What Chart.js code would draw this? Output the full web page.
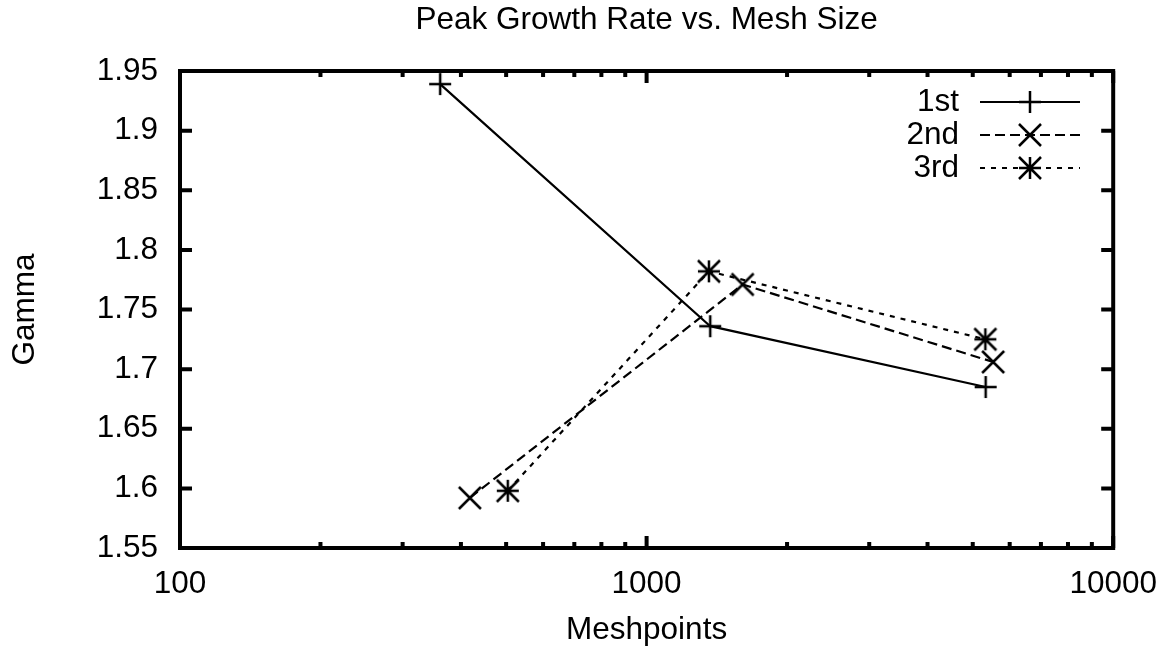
<!DOCTYPE html>
<html>
<head>
<meta charset="utf-8">
<title>Peak Growth Rate vs. Mesh Size</title>
<script src="https://cdn.jsdelivr.net/npm/chart.js@4/dist/chart.umd.min.js"></script>
<style>
  html, body { margin: 0; padding: 0; background: #fff; }
  canvas { display: block; }
</style>
</head>
<body>
<canvas id="growth" width="1174" height="650"></canvas>
<script>
// mesh sizes and peak gamma for each run
const meshFirst = [361, 1369, 5329];
const gammaFirst = [1.939, 1.736, 1.685];
const meshSecond = [418, 1606, 5530];
const gammaSecond = [1.592, 1.771, 1.706];
const meshThird = [504, 1360, 5320];
const gammaThird = [1.598, 1.782, 1.725];

const seriesNames = ['1st', '2nd', '3rd'];
const xTicks = [100, 1000, 10000];
const yTicks = [1.55, 1.6, 1.65, 1.7, 1.75, 1.8, 1.85, 1.9, 1.95];
const chartTitle = 'Peak Growth Rate vs. Mesh Size';

const FONT = '"Liberation Sans", Arial, Helvetica, sans-serif';
const FONT_SIZE = 31.5;
Chart.defaults.font.family = FONT;
Chart.defaults.color = '#000';

// gnuplot style markers drawn once onto small canvases
function makeMarker(kind) {
  const half = 11;
  const c = document.createElement('canvas');
  c.width = c.height = half * 2 + 6;
  const g = c.getContext('2d');
  const m = c.width / 2;
  g.strokeStyle = '#000';
  g.lineWidth = 2.5;
  g.beginPath();
  if (kind === 'plus' || kind === 'star') {
    g.moveTo(m - half, m); g.lineTo(m + half, m);
    g.moveTo(m, m - half); g.lineTo(m, m + half);
  }
  if (kind === 'cross' || kind === 'star') {
    g.moveTo(m - half, m - half); g.lineTo(m + half, m + half);
    g.moveTo(m - half, m + half); g.lineTo(m + half, m - half);
  }
  g.stroke();
  return c;
}

const markers = [makeMarker('plus'), makeMarker('cross'), makeMarker('star')];
const dashes = [[], [10, 5], [5, 6]];

function toPoints(xs, ys) {
  return xs.map((x, i) => ({x: x, y: ys[i]}));
}

const datasets = [
  toPoints(meshFirst, gammaFirst),
  toPoints(meshSecond, gammaSecond),
  toPoints(meshThird, gammaThird)
].map((pts, i) => ({
  label: seriesNames[i],
  data: pts,
  borderColor: '#000',
  borderWidth: 2.2,
  borderDash: dashes[i],
  pointStyle: markers[i],
  pointRadius: 11,
  pointHoverRadius: 11,
  fill: false,
  tension: 0
}));

// border box with inward ticks on all four sides, title over the plot, and the key
const framePlugin = {
  id: 'frame',
  afterDatasetsDraw(chart) {
    const {ctx, chartArea: a, scales: {x, y}} = chart;
    ctx.save();
    ctx.strokeStyle = '#000';
    ctx.lineWidth = 4;
    ctx.lineCap = 'butt';
    ctx.strokeRect(a.left, a.top, a.right - a.left, a.bottom - a.top);

    ctx.beginPath();
    // x: decades long, 2..9 short
    for (let d = 100; d <= 10000; d *= 10) {
      for (let m = 1; m <= 9; m++) {
        const v = d * m;
        if (v > 10000) break;
        const px = x.getPixelForValue(v);
        const len = m === 1 ? 12 : 6;
        ctx.moveTo(px, a.bottom); ctx.lineTo(px, a.bottom - len);
        ctx.moveTo(px, a.top); ctx.lineTo(px, a.top + len);
      }
    }
    yTicks.forEach(v => {
      const py = y.getPixelForValue(v);
      ctx.moveTo(a.left, py); ctx.lineTo(a.left + 12, py);
      ctx.moveTo(a.right, py); ctx.lineTo(a.right - 12, py);
    });
    ctx.stroke();

    ctx.font = FONT_SIZE + 'px ' + FONT;
    ctx.fillStyle = '#000';
    ctx.textBaseline = 'middle';

    // title centred over the plot box
    ctx.textAlign = 'center';
    ctx.fillText(chartTitle, (a.left + a.right) / 2, 20);

    // key
    const textRight = 959, lineL = 980, lineR = 1080, rowTop = 102, rowGap = 33;
    ctx.textAlign = 'right';
    chart.data.datasets.forEach((ds, i) => {
      const ry = rowTop + i * rowGap;
      ctx.fillText(ds.label, textRight, ry);
      ctx.lineWidth = ds.borderWidth;
      ctx.setLineDash(ds.borderDash);
      ctx.beginPath();
      ctx.moveTo(lineL, ry); ctx.lineTo(lineR, ry);
      ctx.stroke();
      ctx.setLineDash([]);
      const mk = ds.pointStyle;
      ctx.drawImage(mk, (lineL + lineR) / 2 - mk.width / 2, ry - mk.height / 2);
    });
    ctx.restore();
  }
};

const textFont = {family: FONT, size: FONT_SIZE, weight: 'normal'};

new Chart(document.getElementById('growth'), {
  type: 'line',
  data: {datasets: datasets},
  plugins: [framePlugin],
  options: {
    responsive: false,
    devicePixelRatio: 1,
    animation: false,
    events: [],
    layout: {padding: {left: 0, right: 54, top: 71, bottom: 0}},
    plugins: {
      legend: {display: false},
      tooltip: {enabled: false},
      title: {display: false}
    },
    scales: {
      x: {
        type: 'logarithmic',
        min: 100,
        max: 10000,
        grid: {display: false, drawTicks: false},
        border: {display: false},
        ticks: {
          font: textFont,
          color: '#000',
          padding: 17,
          autoSkip: false,
          maxRotation: 0,
          callback: v => String(v)
        },
        afterBuildTicks: s => { s.ticks = xTicks.map(v => ({value: v})); },
        afterFit: s => { s.height = 102; },
        title: {display: true, text: 'Meshpoints', font: textFont, color: '#000', padding: {top: 0, bottom: 1}}
      },
      y: {
        min: 1.55,
        max: 1.95,
        grid: {display: false, drawTicks: false},
        border: {display: false},
        ticks: {
          font: textFont,
          color: '#000',
          padding: 22,
          callback: v => String(Number(v.toFixed(2)))
        },
        afterBuildTicks: s => { s.ticks = yTicks.map(v => ({value: v})); },
        afterFit: s => { s.width = 180; },
        title: {display: true, text: 'Gamma', font: textFont, color: '#000', padding: {top: 6, bottom: 0}}
      }
    }
  }
});
</script>
</body>
</html>
